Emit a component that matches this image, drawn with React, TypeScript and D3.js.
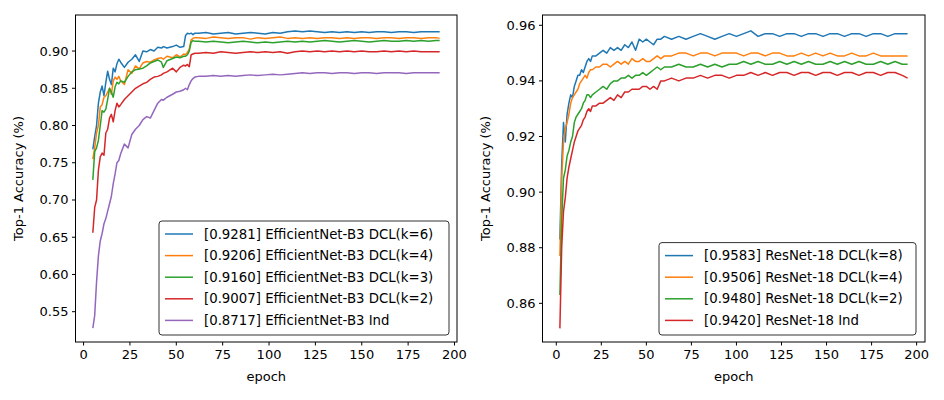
import * as d3 from 'd3';

// left panel: EfficientNet-B3
const epochsL = [5,6,7,8,9,10,11,12,13,14,15,16,17,18,19,20,22,24,26,28,30,32,34,36,38,40,42,43,45,48,50,52,54,55,56,57,58,59,60,62,66,70,74,78,82,86,90,94,98,102,106,110,114,118,122,126,130,134,138,142,146,150,154,158,162,166,170,174,178,182,186,190,192];
const effK6 = [0.768,0.785,0.80,0.83,0.845,0.853,0.84,0.858,0.873,0.862,0.855,0.877,0.872,0.883,0.889,0.885,0.878,0.885,0.889,0.895,0.886,0.900,0.899,0.902,0.900,0.905,0.904,0.906,0.904,0.906,0.908,0.905,0.906,0.921,0.924,0.923,0.924,0.922,0.924,0.924,0.925,0.923,0.924,0.925,0.923,0.924,0.925,0.924,0.923,0.925,0.924,0.926,0.927,0.926,0.927,0.926,0.925,0.926,0.925,0.926,0.925,0.926,0.925,0.926,0.926,0.925,0.926,0.926,0.925,0.926,0.926,0.926,0.926];
const effK4 = [0.755,0.77,0.79,0.80,0.825,0.828,0.838,0.84,0.845,0.85,0.842,0.86,0.865,0.862,0.866,0.86,0.855,0.875,0.870,0.880,0.876,0.884,0.886,0.885,0.888,0.890,0.891,0.889,0.893,0.891,0.895,0.892,0.896,0.895,0.898,0.903,0.915,0.917,0.918,0.918,0.917,0.919,0.918,0.917,0.918,0.918,0.916,0.918,0.917,0.918,0.919,0.917,0.918,0.917,0.918,0.917,0.918,0.918,0.917,0.918,0.917,0.918,0.918,0.917,0.918,0.918,0.917,0.918,0.918,0.917,0.918,0.918,0.917];
const effK3 = [0.727,0.765,0.77,0.78,0.80,0.82,0.818,0.822,0.835,0.85,0.845,0.838,0.852,0.858,0.856,0.860,0.858,0.866,0.872,0.875,0.876,0.877,0.880,0.884,0.886,0.888,0.885,0.878,0.887,0.890,0.892,0.891,0.893,0.893,0.895,0.900,0.912,0.914,0.913,0.913,0.912,0.913,0.912,0.911,0.912,0.913,0.912,0.911,0.912,0.911,0.912,0.913,0.912,0.913,0.912,0.913,0.914,0.913,0.912,0.913,0.914,0.913,0.912,0.913,0.914,0.913,0.913,0.914,0.913,0.914,0.913,0.914,0.914];
const effK2 = [0.656,0.69,0.70,0.74,0.758,0.763,0.76,0.79,0.795,0.81,0.815,0.805,0.82,0.83,0.825,0.828,0.835,0.840,0.845,0.850,0.853,0.856,0.858,0.862,0.865,0.866,0.868,0.870,0.872,0.877,0.872,0.878,0.881,0.880,0.882,0.879,0.895,0.896,0.897,0.897,0.898,0.897,0.899,0.898,0.897,0.898,0.899,0.898,0.899,0.898,0.899,0.897,0.899,0.900,0.899,0.900,0.899,0.900,0.899,0.900,0.899,0.900,0.899,0.899,0.900,0.899,0.900,0.899,0.900,0.899,0.899,0.899,0.899];
const effInd = [0.528,0.545,0.59,0.625,0.645,0.655,0.668,0.675,0.685,0.695,0.705,0.722,0.735,0.750,0.753,0.762,0.775,0.770,0.788,0.795,0.800,0.808,0.812,0.810,0.820,0.830,0.835,0.834,0.838,0.842,0.845,0.846,0.848,0.850,0.848,0.855,0.860,0.863,0.865,0.866,0.866,0.867,0.866,0.867,0.866,0.867,0.868,0.867,0.868,0.869,0.868,0.869,0.870,0.871,0.870,0.871,0.871,0.870,0.871,0.871,0.870,0.871,0.871,0.870,0.871,0.871,0.871,0.870,0.871,0.871,0.871,0.871,0.871];

// right panel: ResNet-18
const epochsR = [2,3,4,5,6,7,8,9,10,11,12,13,14,15,16,17,18,19,20,22,24,26,28,30,32,34,36,38,40,42,44,46,48,50,52,54,56,58,60,64,68,72,76,80,84,88,92,96,100,104,108,112,116,120,124,128,132,136,140,144,148,152,156,160,164,168,172,176,180,184,188,192,195];
const resK8 = [0.883,0.910,0.925,0.918,0.928,0.932,0.935,0.934,0.938,0.940,0.942,0.942,0.944,0.943,0.945,0.947,0.948,0.947,0.949,0.949,0.950,0.951,0.950,0.952,0.951,0.952,0.951,0.953,0.952,0.954,0.951,0.955,0.954,0.955,0.954,0.953,0.955,0.955,0.956,0.955,0.956,0.955,0.956,0.957,0.956,0.955,0.956,0.957,0.956,0.957,0.958,0.956,0.957,0.957,0.956,0.957,0.957,0.956,0.957,0.957,0.956,0.957,0.957,0.956,0.957,0.957,0.956,0.957,0.957,0.956,0.957,0.957,0.957];
const resK4 = [0.877,0.905,0.918,0.923,0.925,0.928,0.932,0.934,0.935,0.936,0.937,0.939,0.940,0.941,0.942,0.941,0.943,0.944,0.944,0.945,0.945,0.946,0.946,0.945,0.946,0.947,0.946,0.947,0.946,0.948,0.947,0.947,0.948,0.947,0.947,0.948,0.949,0.948,0.949,0.949,0.950,0.950,0.949,0.950,0.950,0.949,0.950,0.950,0.950,0.949,0.950,0.950,0.949,0.950,0.950,0.949,0.949,0.950,0.949,0.950,0.949,0.950,0.949,0.949,0.950,0.949,0.949,0.950,0.949,0.949,0.949,0.949,0.949];
const resK2 = [0.863,0.890,0.905,0.908,0.913,0.915,0.918,0.920,0.925,0.927,0.928,0.929,0.930,0.932,0.933,0.935,0.935,0.934,0.935,0.936,0.937,0.938,0.937,0.939,0.940,0.940,0.941,0.941,0.942,0.941,0.942,0.942,0.943,0.942,0.943,0.944,0.945,0.944,0.945,0.945,0.946,0.945,0.945,0.946,0.945,0.946,0.945,0.946,0.946,0.947,0.946,0.947,0.946,0.946,0.947,0.946,0.947,0.946,0.947,0.946,0.946,0.947,0.946,0.947,0.946,0.947,0.946,0.946,0.947,0.946,0.947,0.946,0.946];
const resInd = [0.851,0.880,0.893,0.898,0.905,0.909,0.912,0.915,0.918,0.920,0.922,0.923,0.924,0.926,0.927,0.929,0.930,0.929,0.931,0.931,0.932,0.932,0.933,0.934,0.933,0.935,0.934,0.936,0.936,0.937,0.937,0.937,0.938,0.938,0.937,0.938,0.937,0.940,0.940,0.941,0.940,0.941,0.941,0.942,0.941,0.942,0.942,0.941,0.942,0.942,0.943,0.942,0.943,0.942,0.943,0.943,0.942,0.943,0.943,0.942,0.943,0.943,0.942,0.943,0.943,0.942,0.943,0.943,0.942,0.943,0.943,0.942,0.941];

const labelsL = ['[0.9281] EfficientNet-B3 DCL(k=6)', '[0.9206] EfficientNet-B3 DCL(k=4)', '[0.9160] EfficientNet-B3 DCL(k=3)', '[0.9007] EfficientNet-B3 DCL(k=2)', '[0.8717] EfficientNet-B3 Ind'];
const labelsR = ['[0.9583] ResNet-18 DCL(k=8)', '[0.9506] ResNet-18 DCL(k=4)', '[0.9480] ResNet-18 DCL(k=2)', '[0.9420] ResNet-18 Ind'];
const xTicks = [0, 25, 50, 75, 100, 125, 150, 175, 200];
const yTicksL = [0.55, 0.6, 0.65, 0.7, 0.75, 0.8, 0.85, 0.9];
const yTicksR = [0.86, 0.88, 0.9, 0.92, 0.94, 0.96];

const COLORS = ['#1f77b4', '#ff7f0e', '#2ca02c', '#d62728', '#9467bd'];
const FONT = 'DejaVu Sans, sans-serif';

interface PanelProps {
  left: number;
  right: number;
  epochs: number[];
  series: number[][];
  labels: string[];
  xDomain: [number, number];
  yDomain: [number, number];
  yTicks: number[];
  yFmt: (v: number) => string;
  legendX: number;
  legendW: number;
}

const TOP = 15;
const BOTTOM = 342;

function Panel(p: PanelProps) {
  const x = d3.scaleLinear().domain(p.xDomain).range([p.left, p.right]);
  const y = d3.scaleLinear().domain(p.yDomain).range([BOTTOM, TOP]);
  const line = d3.line<number>().x((_, i) => x(p.epochs[i])).y(d => y(d));
  const rowH = 21.6;
  const legendH = p.labels.length * rowH + 6;
  const legendTop = BOTTOM - 7 - legendH;
  return (
    <g fontFamily={FONT}>
      {p.series.map((s, i) => (
        <path key={i} d={line(s) ?? ''} fill="none" stroke={COLORS[i]} strokeWidth={1.5} strokeLinejoin="round" />
      ))}
      <rect x={p.left} y={TOP} width={p.right - p.left} height={BOTTOM - TOP} fill="none" stroke="#000" strokeWidth={1} />
      {xTicks.map(t => (
        <g key={t}>
          <line x1={x(t)} x2={x(t)} y1={BOTTOM} y2={BOTTOM + 3.5} stroke="#000" />
          <text x={x(t)} y={BOTTOM + 17} textAnchor="middle" fontSize={13}>{t}</text>
        </g>
      ))}
      {p.yTicks.map(t => (
        <g key={t}>
          <line x1={p.left - 3.5} x2={p.left} y1={y(t)} y2={y(t)} stroke="#000" />
          <text x={p.left - 7} y={y(t) + 4.5} textAnchor="end" fontSize={13}>{p.yFmt(t)}</text>
        </g>
      ))}
      <text x={(p.left + p.right) / 2} y={381} textAnchor="middle" fontSize={13}>epoch</text>
      <text transform={`translate(${p.left - 53},${(TOP + BOTTOM) / 2}) rotate(-90)`} textAnchor="middle" fontSize={13}>Top-1 Accuracy (%)</text>
      <rect x={p.legendX} y={legendTop} width={p.legendW} height={legendH} rx={3} fill="#fff" fillOpacity={0.85} stroke="#333" />
      {p.labels.map((l, i) => {
        const yy = legendTop + 13 + i * rowH;
        return (
          <g key={l}>
            <line x1={p.legendX + 6} x2={p.legendX + 34} y1={yy} y2={yy} stroke={COLORS[i]} strokeWidth={1.5} />
            <text x={p.legendX + 45} y={yy + 4.5} fontSize={13.3}>{l}</text>
          </g>
        );
      })}
    </g>
  );
}

export default function App() {
  return (
    <svg width={944} height={400} style={{ position: 'absolute', left: 0, top: 0, background: '#fff' }}>
      <rect width={944} height={400} fill="#fff" />
      <Panel
        left={75.5} right={457} epochs={epochsL}
        series={[effK6, effK4, effK3, effK2, effInd]} labels={labelsL}
        xDomain={[-4.35, 201.35]} yDomain={[0.5093, 0.9484]}
        yTicks={yTicksL} yFmt={d3.format('.2f')} legendX={159} legendW={290}
      />
      <Panel
        left={542.5} right={925} epochs={epochsR}
        series={[resK8, resK4, resK2, resInd]} labels={labelsR}
        xDomain={[-7.65, 204.65]} yDomain={[0.8461, 0.9637]}
        yTicks={yTicksR} yFmt={d3.format('.2f')} legendX={659} legendW={257}
      />
    </svg>
  );
}
